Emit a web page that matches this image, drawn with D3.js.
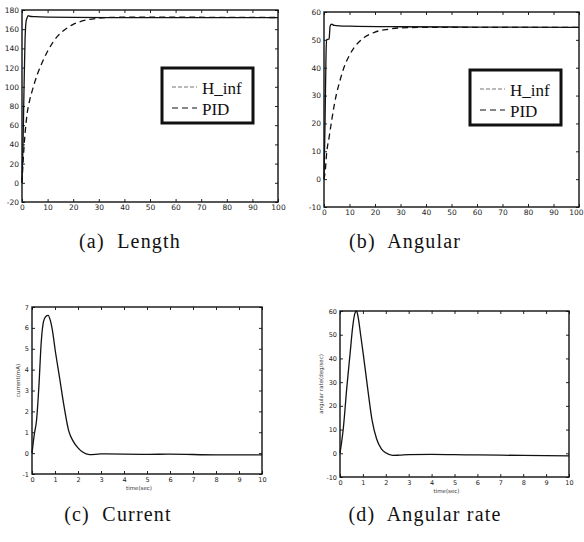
<!DOCTYPE html>
<html>
<head>
<meta charset="utf-8">
<script src="https://cdn.jsdelivr.net/npm/d3@7"></script>
<style>
body { margin: 0; background: #fff; }
svg { display: block; }
.tick text { font-family: "DejaVu Sans", sans-serif; fill: #222; }
.tick line { stroke: #222; }
.cap { font-family: "Liberation Serif", serif; font-size: 20px; letter-spacing: 1.2px; fill: #111; white-space: pre; }
.leg { font-family: "Liberation Serif", serif; font-size: 17px; fill: #111; }
</style>
</head>
<body>
<div id="chart"></div>
<script>
// (a) length response
var lengthHinfT = [0, 0.4, 0.8, 1.2, 1.6, 2, 2.5, 3, 5, 10, 20, 40, 60, 80, 100];
var lengthHinf  = [0, 40, 100, 150, 168, 172, 174, 173.5, 173, 172.5, 172.3, 172, 172, 172, 172];
var lengthPidT  = [0, 0.5, 1, 2, 3, 4, 5, 6, 8, 10, 12, 14, 16, 18, 20, 25, 30, 35, 40, 50, 60, 80, 100];
var lengthPid   = [0, 25, 45, 72, 86, 96, 105, 113, 126, 137, 146, 153, 158, 162, 165, 169.5, 171.5, 172.3, 172.5, 172.5, 172.5, 172.3, 172.2];

// (b) angular response
var angleHinfT = [0, 0.4, 0.8, 1, 2, 2.4, 3, 4, 6, 10, 30, 60, 100];
var angleHinf  = [0, 20, 45, 50, 50.3, 55, 55.6, 55.2, 55, 54.9, 54.7, 54.6, 54.5];
var anglePidT  = [0, 0.5, 1, 2, 3, 4, 5, 6, 8, 10, 12, 14, 16, 18, 20, 25, 30, 40, 60, 100];
var anglePid   = [0, 3, 9, 15, 21, 26.5, 31, 34.5, 40.5, 44.5, 47.5, 49.5, 51, 52, 52.8, 53.8, 54.3, 54.5, 54.5, 54.5];

// (c) current
var currentT = [0, 0.1, 0.2, 0.3, 0.4, 0.5, 0.6, 0.7, 0.8, 0.9, 1.0, 1.2, 1.4, 1.6, 1.8, 2.0, 2.2, 2.5, 3, 4, 5, 6, 8, 10];
var current  = [0, 0.9, 1.6, 3.2, 5.3, 6.3, 6.55, 6.6, 6.35, 5.8, 5.0, 3.6, 2.2, 1.05, 0.55, 0.25, 0.05, -0.07, -0.04, -0.05, -0.06, -0.05, -0.08, -0.08];

// (d) angular rate
var rateT = [0, 0.15, 0.3, 0.45, 0.55, 0.65, 0.72, 0.8, 0.9, 1.0, 1.2, 1.4, 1.6, 1.8, 2.0, 2.3, 2.6, 3, 4, 5, 6, 8, 10];
var rate  = [0, 11, 28, 43, 53, 59, 60, 57, 50, 43, 28, 14, 6, 2, 0.2, -0.9, -0.8, -0.6, -0.5, -0.6, -0.7, -0.9, -1.1];

var ticks100 = [0, 10, 20, 30, 40, 50, 60, 70, 80, 90, 100];
var ticks10 = [0, 1, 2, 3, 4, 5, 6, 7, 8, 9, 10];
var lengthTicks = [-20, 0, 20, 40, 60, 80, 100, 120, 140, 160, 180];
var angleTicks = [-10, 0, 10, 20, 30, 40, 50, 60];
var currentTicks = [-1, 0, 1, 2, 3, 4, 5, 6, 7];
var legendNames = ["H_inf", "PID"];

var svg = d3.select("#chart").append("svg")
  .attr("width", 584)
  .attr("height", 542);

function zip(t, v) {
  return t.map(function(d, i) { return [d, v[i]]; });
}

function panel(p) {
  var x = d3.scaleLinear().domain(p.xd).range([p.l, p.r]);
  var y = d3.scaleLinear().domain(p.yd).range([p.b, p.t]);
  var g = svg.append("g");

  var xa = g.append("g")
    .attr("transform", "translate(0," + p.b + ")")
    .call(d3.axisBottom(x).tickValues(p.xt).tickSizeInner(-3).tickSizeOuter(0).tickPadding(3))
    .call(function(a) { a.select(".domain").remove(); a.selectAll("text").attr("font-size", p.fs); });
  // keep last label inside the page edge
  if (p.lastEnd) {
    xa.selectAll(".tick:last-of-type text").attr("text-anchor", "end").attr("dx", 4);
  }
  g.append("g")
    .attr("transform", "translate(" + p.l + ",0)")
    .call(d3.axisLeft(y).tickValues(p.yt).tickSizeInner(-3).tickSizeOuter(0).tickPadding(3).tickFormat(function(d) { return d; }))
    .call(function(a) { a.select(".domain").remove(); a.selectAll("text").attr("font-size", p.fs); });
  g.append("g")
    .attr("transform", "translate(0," + p.t + ")")
    .call(d3.axisTop(x).tickValues(p.xt).tickSizeInner(-3).tickSizeOuter(0).tickFormat(""))
    .call(function(a) { a.select(".domain").remove(); });
  g.append("g")
    .attr("transform", "translate(" + p.r + ",0)")
    .call(d3.axisRight(y).tickValues(p.yt).tickSizeInner(-3).tickSizeOuter(0).tickFormat(""))
    .call(function(a) { a.select(".domain").remove(); });

  g.append("rect")
    .attr("x", p.l).attr("y", p.t)
    .attr("width", p.r - p.l).attr("height", p.b - p.t)
    .attr("fill", "none").attr("stroke", "#111").attr("stroke-width", 1.4);

  var line = d3.line()
    .x(function(d) { return x(d[0]); })
    .y(function(d) { return y(d[1]); })
    .curve(d3.curveMonotoneX);

  p.series.forEach(function(s) {
    g.append("path")
      .datum(s.data)
      .attr("d", line)
      .attr("fill", "none")
      .attr("stroke", "#111")
      .attr("stroke-width", 1.3)
      .attr("stroke-dasharray", s.dash || null);
  });

  if (p.xlabel) {
    g.append("text")
      .attr("x", (p.l + p.r) / 2 - 8).attr("y", p.b + 16)
      .attr("text-anchor", "middle")
      .attr("font-family", "DejaVu Sans, sans-serif")
      .attr("font-size", 5.5).attr("fill", "#333")
      .text(p.xlabel);
  }
  if (p.ylabel) {
    g.append("text")
      .attr("transform", "translate(" + (p.l - p.yoff) + "," + ((p.t + p.b) / 2 - 10) + ") rotate(-90)")
      .attr("text-anchor", "middle")
      .attr("font-family", "DejaVu Sans, sans-serif")
      .attr("font-size", 5.5).attr("fill", "#333")
      .text(p.ylabel);
  }

  if (p.legend) {
    var lg = g.append("g").attr("transform", "translate(" + p.legend[0] + "," + p.legend[1] + ")");
    lg.append("rect")
      .attr("width", 91).attr("height", 55)
      .attr("fill", "#fff").attr("stroke", "#111").attr("stroke-width", 3);
    var dashes = ["4,2", "6,4"];
    var cols = ["#777", "#111"];
    legendNames.forEach(function(name, i) {
      lg.append("line")
        .attr("x1", 10).attr("x2", 35)
        .attr("y1", 19 + i * 21).attr("y2", 19 + i * 21)
        .attr("stroke", cols[i]).attr("stroke-width", 1.2)
        .attr("stroke-dasharray", dashes[i]);
      lg.append("text")
        .attr("class", "leg")
        .attr("x", 40).attr("y", 26 + i * 21)
        .text(name);
    });
  }

  svg.append("text")
    .attr("class", "cap")
    .attr("x", p.cap[0]).attr("y", p.cap[1])
    .attr("text-anchor", "middle")
    .text(p.cap[2]);
}

panel({
  l: 22, r: 278, t: 10, b: 202, xd: [0, 100], yd: [-20, 180],
  xt: ticks100, yt: lengthTicks, fs: 7.5,
  series: [{ data: zip(lengthHinfT, lengthHinf) }, { data: zip(lengthPidT, lengthPid), dash: "6,4" }],
  legend: [162, 68],
  cap: [130, 248, "(a)  Length"]
});

panel({
  l: 324, r: 579, t: 12, b: 207, xd: [0, 100], yd: [-10, 60],
  xt: ticks100, yt: angleTicks, fs: 7.5, lastEnd: true,
  series: [{ data: zip(angleHinfT, angleHinf) }, { data: zip(anglePidT, anglePid), dash: "6,4" }],
  legend: [470, 70],
  cap: [405, 248, "(b)  Angular"]
});

panel({
  l: 32, r: 262, t: 307, b: 474, xd: [0, 10], yd: [-1, 7],
  xt: ticks10, yt: currentTicks, fs: 6.5,
  series: [{ data: zip(currentT, current) }],
  xlabel: "time(sec)", ylabel: "current(mA)", yoff: 12,
  cap: [118, 521, "(c)  Current"]
});

panel({
  l: 340, r: 569, t: 311, b: 477, xd: [0, 10], yd: [-10, 60],
  xt: ticks10, yt: angleTicks, fs: 6.5,
  series: [{ data: zip(rateT, rate) }],
  xlabel: "time(sec)", ylabel: "angular rate(deg/sec)", yoff: 17,
  cap: [425, 521, "(d)  Angular rate"]
});
</script>
</body>
</html>
